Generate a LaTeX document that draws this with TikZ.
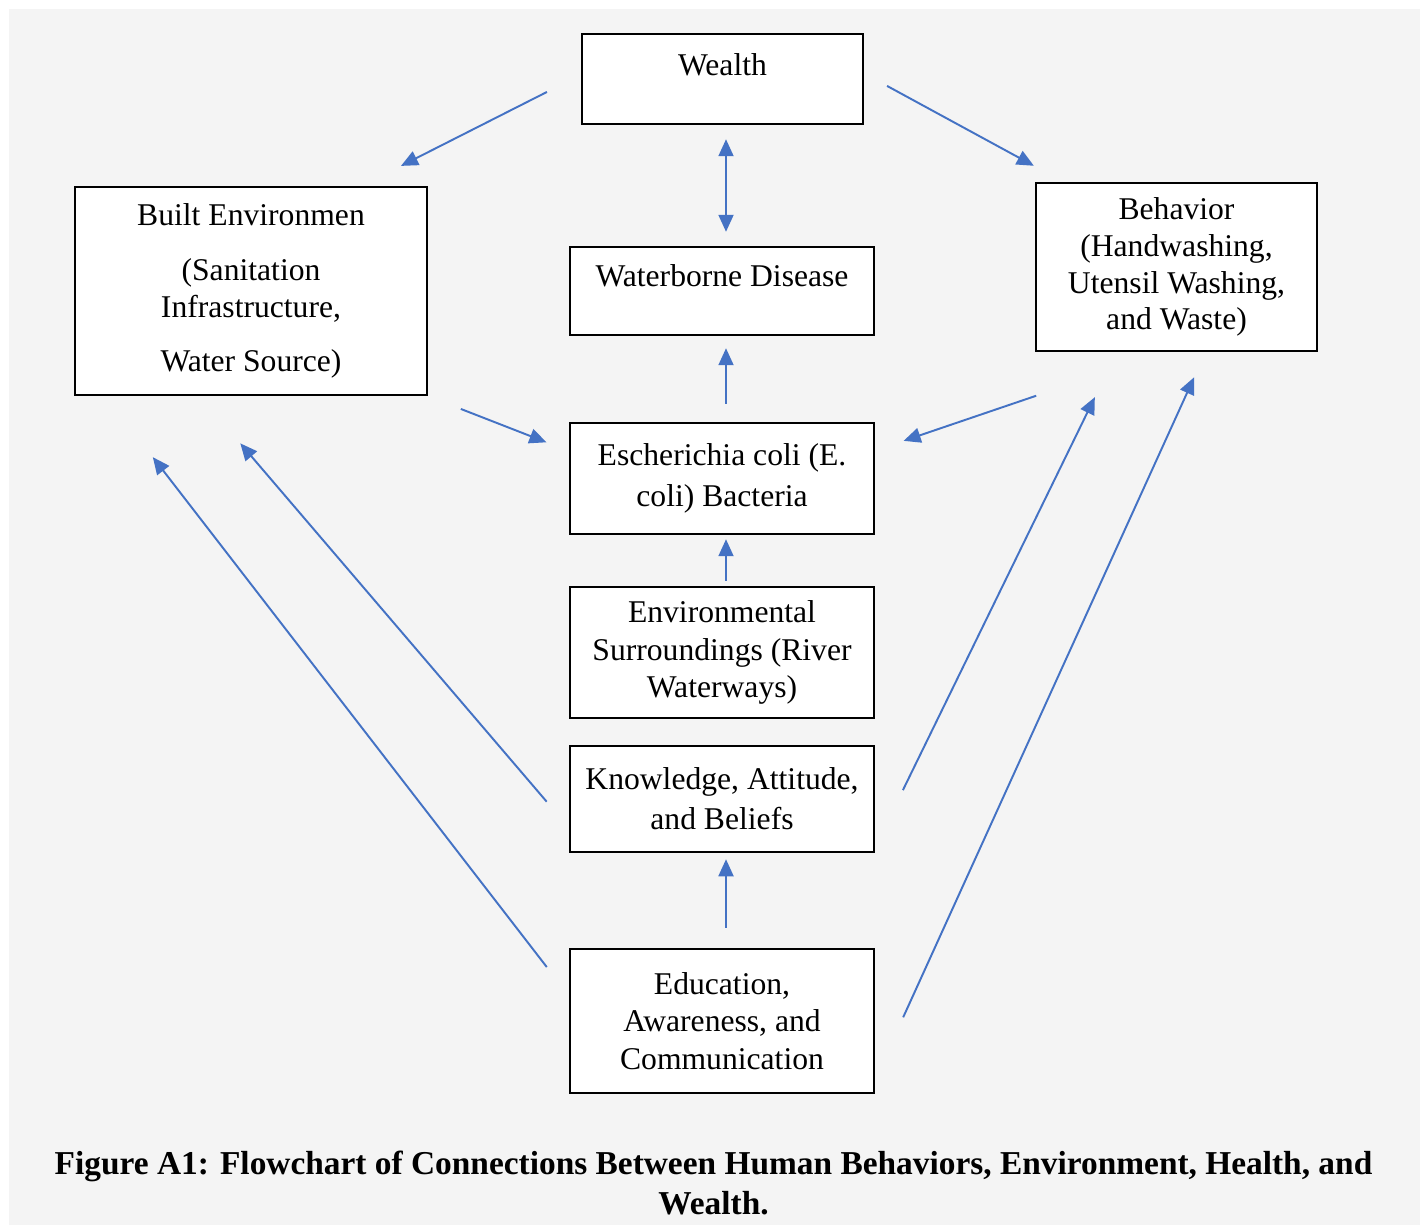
\documentclass[tikz,border=0pt]{standalone}
\usepackage{fontspec}
\setmainfont{Liberation Serif}
\usetikzlibrary{arrows.meta}

\definecolor{arrblue}{HTML}{4472C4}
\definecolor{pagegray}{HTML}{F4F4F4}

\tikzset{
  box/.style={draw, fill=white, line width=0.7pt, inner sep=0pt, align=center,
    font=\fontsize{9}{10.5}\selectfont},
  arr/.style={draw=arrblue, line width=0.55pt, -{Triangle[length=1.7mm,width=1.5mm]}},
  darr/.style={arr, {Triangle[length=1.7mm,width=1.5mm]}-{Triangle[length=1.7mm,width=1.5mm]}},
  caption/.style={align=center, font=\fontsize{9.5}{11.4}\selectfont\bfseries}
}

\begin{document}
\begin{tikzpicture}[x=0.1mm, y=-0.1mm]

\useasboundingbox (0,0) rectangle (1420,1225);
\fill[pagegray] (9,9) rectangle (1420,1225);

\node [box, minimum width=28.1mm, minimum height=9mm] (wealth) at (722.5,79) {Wealth\\[-0.7mm]~};
\node [box, minimum width=30.4mm, minimum height=8.8mm] (disease) at (722,291) {Waterborne Disease\\[-0.5mm]~};
\node [box, minimum width=35.2mm, minimum height=20.8mm] (built) at (251,291)
  {Built Environmen\\[1.8mm](Sanitation\\Infrastructure,\\[1.8mm]Water Source)};
\node [box, minimum width=28.1mm, minimum height=16.8mm] (behav) at (1176.5,267)
  {Behavior\\(Handwashing,\\Utensil Washing,\\and Waste)};
\node [box, minimum width=30.4mm, minimum height=11.1mm, font=\fontsize{9}{11.6}\selectfont] (ecoli) at (722,478.5)
  {Escherichia coli (E.\\coli) Bacteria};
\node [box, minimum width=30.4mm, minimum height=13.1mm, font=\fontsize{9}{10.6}\selectfont] (env) at (722,652.5)
  {Environmental\\Surroundings (River\\Waterways)};
\node [box, minimum width=30.4mm, minimum height=10.6mm, font=\fontsize{9}{11.4}\selectfont] (know) at (722,799)
  {Knowledge, Attitude,\\and Beliefs};
\node [box, minimum width=30.4mm, minimum height=14.4mm, font=\fontsize{9}{10.6}\selectfont] (edu) at (722,1021)
  {Education,\\Awareness, and\\Communication};

% wealth on both sides
\draw [arr, shorten <=3.8mm, shorten >=4.4mm] ([yshift=0.42mm]wealth.west) -- ([xshift=-6.65mm]built.north east);
\draw [arr, shorten <=2.6mm, shorten >=3.35mm] ([yshift=0.55mm]wealth.east) -- ([xshift=2.85mm]behav.north west);
\draw [darr, shorten <=1.4mm, shorten >=1.4mm] ([xshift=0.35mm]wealth.south) -- ([xshift=0.4mm]disease.north);

% centre column
\draw [arr, shorten <=1.8mm, shorten >=1.2mm] ([xshift=0.4mm]ecoli.north) -- ([xshift=0.4mm]disease.south);
\draw [arr, shorten <=0.5mm, shorten >=0.4mm] ([xshift=0.4mm]env.north) -- ([xshift=0.4mm]ecoli.south);
\draw [arr, shorten <=2mm, shorten >=0.6mm] ([xshift=0.4mm]edu.north) -- ([xshift=0.4mm]know.south);

% into e. coli
\draw [arr, shorten <=3.5mm, shorten >=2.4mm] (built.south east) -- ([yshift=2.75mm]ecoli.west);
\draw [arr, shorten <=13.5mm, shorten >=3mm] ([xshift=-1.25mm]behav.south) -- ([yshift=2.8mm]ecoli.east);

% long ones from the bottom
\draw [arr, shorten <=3.4mm, shorten >=6.2mm] ([yshift=-2.85mm]know.west) -- ([xshift=-5.1mm]built.south);
\draw [arr, shorten <=3.6mm, shorten >=7.7mm] ([yshift=2.55mm]edu.west) -- ([xshift=3.2mm]built.south west);
\draw [arr, shorten <=6.3mm, shorten >=5mm] ([yshift=0.65mm]know.south east) -- ([xshift=8.2mm]behav.south west);
\draw [arr, shorten <=6.75mm, shorten >=2.75mm] ([yshift=1.55mm]edu.south east) -- ([xshift=2.9mm]behav.south);

\node [caption] (cap) at (713.5,1183)
  {Figure A1: Flowchart of Connections Between Human Behaviors, Environment, Health, and\\Wealth.};

\end{tikzpicture}
\end{document}
